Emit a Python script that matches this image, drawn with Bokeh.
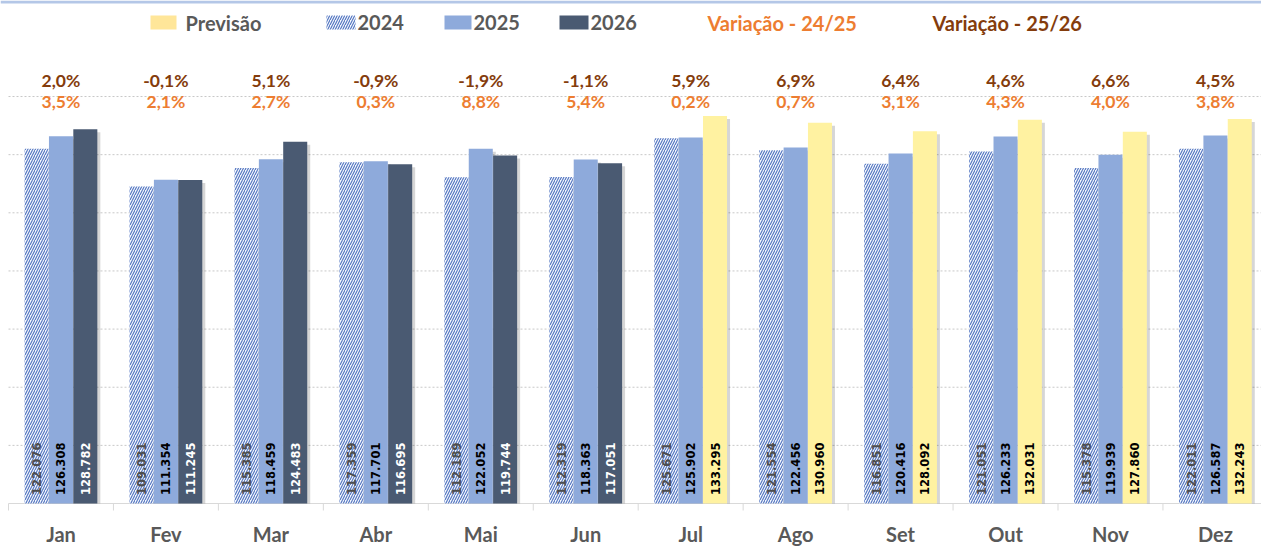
import numpy as np
from bokeh.plotting import figure
from bokeh.models import Range1d, BoxAnnotation, Label
from bokeh.core.properties import value
from bokeh.embed import file_html
from bokeh.resources import INLINE

# ---------------- data ----------------
months = ["Jan", "Fev", "Mar", "Abr", "Mai", "Jun", "Jul", "Ago", "Set", "Out", "Nov", "Dez"]
v2024 = [122076, 109031, 115385, 117359, 112189, 112319, 125671, 121554, 116851, 121051, 115378, 122011]
v2025 = [126308, 111354, 118459, 117701, 122052, 118363, 125902, 122456, 120416, 126233, 119939, 126587]
v2026 = [128782, 111245, 124483, 116695, 119744, 117051]          # Jan-Jun (realizado)
previsao = [133295, 130960, 128092, 132031, 127860, 132243]        # Jul-Dez (previsão)
var_24_25 = ["3,5%", "2,1%", "2,7%", "0,3%", "8,8%", "5,4%", "0,2%", "0,7%", "3,1%", "4,3%", "4,0%", "3,8%"]
var_25_26 = ["2,0%", "-0,1%", "5,1%", "-0,9%", "-1,9%", "-1,1%", "5,9%", "6,9%", "6,4%", "4,6%", "6,6%", "4,5%"]
grid_values = [20000, 40000, 60000, 80000, 100000, 120000, 140000]

# ---------------- layout ----------------
W, H = 1261, 546
PX_LEFT = 8          # left edge of first category (px)
CAT_W = 104.95       # category width (px)
BASE_PX = 503        # baseline position from top (px)
UPP = 344.0          # value units per pixel

def sy(top_px):
    return H - top_px

p = figure(width=W, height=H,
           x_range=Range1d(-PX_LEFT / CAT_W, (W - PX_LEFT) / CAT_W),
           y_range=Range1d(-(H - BASE_PX) * UPP, BASE_PX * UPP),
           x_axis_location=None, y_axis_location=None,
           output_backend="svg", toolbar_location=None, min_border=0)
p.grid.visible = False
p.outline_line_color = None
p.background_fill_color = "white"
p.border_fill_color = "white"

n = len(months)
xc = np.arange(n) + 0.5
OFF = 0.232
BW = 0.229

HATCH = dict(hatch_pattern="/", hatch_color="#4f72c0", hatch_scale=5, hatch_weight=1.1)

# gridlines
p.segment(x0=[0] * len(grid_values), x1=[n] * len(grid_values), y0=grid_values, y1=grid_values,
          line_color="#c8c8c8", line_width=1, line_dash="2 2")
# baseline & category separators
p.segment(x0=[0], x1=[n], y0=[0], y1=[0], line_color="#d9d9d9", line_width=1)
p.segment(x0=list(range(n + 1)), x1=list(range(n + 1)), y0=[0] * (n + 1), y1=[-7 * UPP] * (n + 1),
          line_color="#d9d9d9", line_width=1)

# shadows
SDX = 3 / CAT_W
SDY = 3 * UPP
x26 = xc[:6] + OFF
xprev = xc[6:] + OFF
for xs, vals in [(xc - OFF, v2024), (xc, v2025), (x26, v2026), (xprev, previsao)]:
    p.vbar(x=np.array(xs) + SDX, top=np.array(vals) - SDY, bottom=0, width=BW,
           fill_color="black", fill_alpha=0.16, line_color=None)

# bars
p.vbar(x=xc - OFF, top=v2024, bottom=0, width=BW, fill_color="#f4f7fc", line_color=None, **HATCH)
p.vbar(x=xc, top=v2025, bottom=0, width=BW, fill_color="#8eaadb", line_color=None)
p.vbar(x=x26, top=v2026, bottom=0, width=BW, fill_color="#4a5a72", line_color=None)
p.vbar(x=xprev, top=previsao, bottom=0, width=BW, fill_color="#fff2a1", line_color=None)

def fmt(v):
    return f"{v:,}".replace(",", ".")

LBL_Y = 8.5 * UPP
lbl_kw = dict(angle=np.pi / 2, text_align="left", text_baseline="middle",
              text_font=value("DejaVu Sans"), text_font_style="bold", text_font_size="11.5px")
p.text(x=xc - OFF, y=[LBL_Y] * n, text=[fmt(v) for v in v2024], text_color="#4d4d4d", **lbl_kw)
p.text(x=xc, y=[LBL_Y] * n, text=[fmt(v) for v in v2025], text_color="black", **lbl_kw)
p.text(x=x26, y=[LBL_Y] * 6, text=[fmt(v) for v in v2026], text_color="white", **lbl_kw)
p.text(x=xprev, y=[LBL_Y] * 6, text=[fmt(v) for v in previsao], text_color="black", **lbl_kw)

# variation labels
pct_kw = dict(text_align="center", text_baseline="middle", text_font=value("Lato"),
              text_font_style="bold", text_font_size="17.5px")
p.text(x=xc, y=[(BASE_PX - 80) * UPP] * n, text=var_25_26, text_color="#843c0c", **pct_kw)
p.text(x=xc, y=[(BASE_PX - 101) * UPP] * n, text=var_24_25, text_color="#ed7d31", **pct_kw)

# month labels
p.text(x=xc, y=[-(533 - BASE_PX) * UPP] * n, text=months, text_color="#595959",
       text_align="center", text_baseline="middle", text_font=value("Lato"),
       text_font_style="bold", text_font_size="20px")

# top border
p.add_layout(BoxAnnotation(left=0, right=W, top=sy(0), bottom=sy(3),
                           left_units="screen", right_units="screen",
                           top_units="screen", bottom_units="screen",
                           fill_color="#b4c7e7", fill_alpha=1, line_color=None))

# legend (manual)
LEG_Y = 22
def swatch(l, r, **kw):
    p.add_layout(BoxAnnotation(left=l, right=r, top=sy(LEG_Y - 7), bottom=sy(LEG_Y + 7),
                               left_units="screen", right_units="screen",
                               top_units="screen", bottom_units="screen",
                               fill_alpha=1, line_color=None, **kw))

def leg_text(x, t, color):
    p.add_layout(Label(x=x, y=sy(LEG_Y), x_units="screen", y_units="screen", text=t,
                       text_align="left", text_baseline="middle", text_font="Lato",
                       text_font_style="bold", text_font_size="20px", text_color=color))

swatch(150, 176, fill_color="#ffe699")
leg_text(185, "Previsão", "#595959")
swatch(326, 355, fill_color="#f4f7fc", **HATCH)
leg_text(357, "2024", "#595959")
swatch(444, 471, fill_color="#8eaadb")
leg_text(473, "2025", "#595959")
swatch(559, 588, fill_color="#4a5a72")
leg_text(590, "2026", "#595959")
leg_text(707, "Variação - 24/25", "#ed7d31")
leg_text(932, "Variação - 25/26", "#843c0c")

open("out.html", "w").write(file_html(p, INLINE))
